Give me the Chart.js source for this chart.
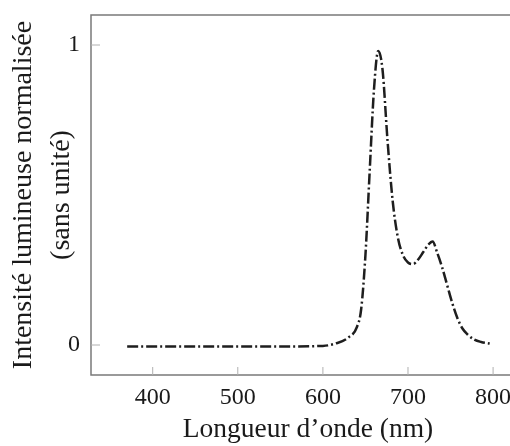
<!DOCTYPE html>
<html>
<head>
<meta charset="utf-8">
<script src="https://cdn.jsdelivr.net/npm/chart.js@4/dist/chart.umd.min.js"></script>
<style>
  html, body { margin: 0; padding: 0; background: #fff; overflow: hidden; }
  #wrap { position: relative; width: 510px; height: 446px; overflow: hidden; }
  #c { position: absolute; left: 0; top: 0; }
</style>
</head>
<body>
<div id="wrap"><canvas id="c" width="540" height="446"></canvas></div>
<script>
const wavelengths = [370, 450, 550, 600, 615, 630, 640, 645, 650, 655, 660, 665, 670, 676, 682, 688, 694, 700, 706, 712, 718, 724, 729, 734, 740, 746, 752, 758, 764, 770, 778, 786, 796];
const intensity   = [-0.005, -0.005, -0.005, -0.003, 0.005, 0.025, 0.06, 0.12, 0.30, 0.58, 0.85, 0.98, 0.92, 0.68, 0.48, 0.36, 0.30, 0.275, 0.27, 0.285, 0.31, 0.335, 0.345, 0.31, 0.26, 0.20, 0.14, 0.09, 0.055, 0.035, 0.018, 0.01, 0.005];
const xTickValues = [400, 500, 600, 700, 800];
const yTickValues = [0, 1];
const xTitle = "Longueur d\u2019onde (nm)";
const yTitle = ["Intensit\u00e9 lumineuse normalis\u00e9e", "(sans unit\u00e9)"];

const points = wavelengths.map((w, i) => ({ x: w, y: intensity[i] }));
const serif = "'Liberation Serif', 'DejaVu Serif', serif";
const axisGray = '#7a7a7a';
const textColor = '#1a1a1a';

const frame = {
  id: 'frame',
  afterDraw(chart) {
    const { ctx, chartArea: a, scales } = chart;
    ctx.save();
    ctx.strokeStyle = axisGray;
    ctx.lineWidth = 1.5;
    ctx.beginPath();
    ctx.moveTo(a.right, a.top); ctx.lineTo(a.left, a.top);
    ctx.lineTo(a.left, a.bottom); ctx.lineTo(a.right, a.bottom);
    ctx.stroke();
    ctx.lineWidth = 1;
    ctx.strokeStyle = '#b0b0b0';
    scales.x.ticks.forEach(t => {
      const px = scales.x.getPixelForValue(t.value);
      ctx.beginPath(); ctx.moveTo(px, a.bottom); ctx.lineTo(px, a.bottom - 8); ctx.stroke();
    });
    scales.y.ticks.forEach(t => {
      const py = scales.y.getPixelForValue(t.value);
      ctx.beginPath(); ctx.moveTo(a.left, py); ctx.lineTo(a.left + 9, py); ctx.stroke();
    });
    ctx.restore();
  }
};

new Chart(document.getElementById('c'), {
  type: 'line',
  data: {
    datasets: [{
      data: points,
      borderColor: '#1e1e1e',
      borderWidth: 2.5,
      borderDash: [11, 3, 2, 3],
      pointRadius: 0,
      fill: false,
      cubicInterpolationMode: 'monotone'
    }]
  },
  options: {
    responsive: false,
    animation: false,
    events: [],
    layout: { padding: { top: 15, right: 15, left: 0, bottom: 0 } },
    plugins: { legend: { display: false }, tooltip: { enabled: false } },
    scales: {
      x: {
        type: 'linear',
        min: 327.5,
        max: 837.5,
        afterBuildTicks: s => { s.ticks = xTickValues.map(v => ({ value: v })); },
        afterFit: s => { s.height = 71; s.paddingLeft = 0; s.paddingRight = 0; },
        grid: { display: false, drawTicks: false },
        border: { display: false },
        ticks: { color: textColor, font: { family: serif, size: 24 }, padding: 8, maxRotation: 0 },
        title: { display: true, text: xTitle, color: textColor, font: { family: serif, size: 27.5 }, padding: { top: 5, bottom: 0 } }
      },
      y: {
        type: 'linear',
        min: -0.1,
        max: 1.1,
        afterBuildTicks: s => { s.ticks = yTickValues.map(v => ({ value: v })); },
        afterFit: s => { s.width = 91; s.paddingTop = 0; s.paddingBottom = 0; },
        grid: { display: false, drawTicks: false },
        border: { display: false },
        ticks: { color: textColor, font: { family: serif, size: 24 }, padding: 11 },
        title: { display: true, text: yTitle, color: textColor, font: { family: serif, size: 28, lineHeight: 1.36 }, padding: { top: 5, bottom: 0 } }
      }
    }
  },
  plugins: [frame]
});
</script>
</body>
</html>
